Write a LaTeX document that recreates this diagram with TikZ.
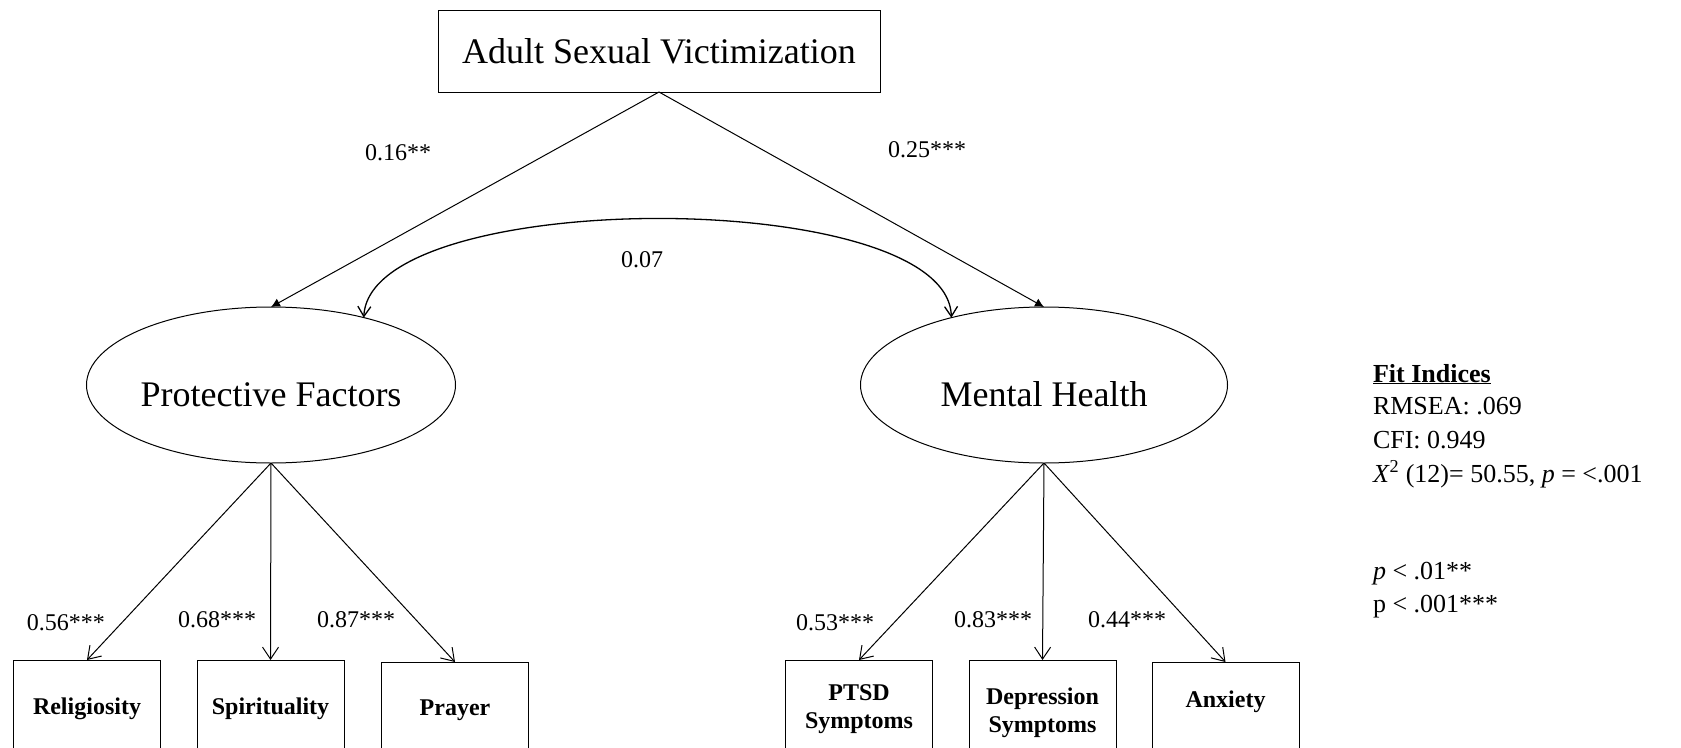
\documentclass[tikz,border=0pt]{standalone}
\usepackage{fontspec}
\setmainfont{Liberation Serif}
\usetikzlibrary{arrows.meta,shapes.geometric}

\newcommand{\sz}[2]{\fontsize{#1}{#2}\selectfont}

\begin{document}
\begin{tikzpicture}[x=1pt,y=-1pt,
  every node/.style={inner sep=0pt, outer sep=0pt},
  exo/.style={draw, line width=1pt, minimum width=442pt, minimum height=82pt, font=\sz{36}{43}},
  latent/.style={draw, ellipse, line width=1pt, minimum width=367pt, minimum height=156pt,
    font=\sz{36}{43}, text height=42pt, text depth=0pt},
  obs/.style={draw, line width=1pt, minimum width=147pt, align=center,
    font=\sz{24}{28}\bfseries, anchor=north},
  oneline/.style={text height=16pt, text depth=5pt},
  coef/.style={font=\sz{24}{29}},
  regpath/.style={line width=1pt, -{Latex[length=9pt,width=9pt]}},
  loading/.style={line width=1pt, -{Straight Barb[length=12pt,width=16pt]}},
  covpath/.style={line width=1.3pt, {Straight Barb[length=10pt,width=13pt]}-{Straight Barb[length=10pt,width=13pt]}},
  fitline/.style={anchor=base west, font=\sz{26}{31}}
]
\useasboundingbox (0,0) rectangle (1681,747);
\clip (0,0) rectangle (1681,747);

% exogenous variable
\node[exo] (asv) at (659,51) {Adult Sexual Victimization};

% latent factors
\node[latent] (pf) at (271,385) {Protective Factors};
\node[latent] (mh) at (1044,385) {Mental Health};

% indicators of protective factors
\node[obs, oneline, minimum height=98pt] (rel) at (87,660) {Religiosity};
\node[obs, oneline, minimum height=98pt] (spi) at (270.5,660) {Spirituality};
\node[obs, oneline, minimum height=95pt] (pra) at (455,662) {Prayer};

% indicators of mental health
\node[obs, minimum height=99pt] (ptsd) at (859,660) {PTSD\\Symptoms};
\node[obs, minimum height=105pt] (dep) at (1042.5,660) {Depression\\Symptoms};
\node[obs, text height=6pt, text depth=16pt, minimum height=100pt] (anx) at (1225.5,662) {Anxiety};

% structural paths
\draw[regpath] (asv.south) -- (pf.north);
\draw[regpath] (asv.south) -- (mh.north);
\draw[covpath] (pf.36) .. controls (370,186) and (948,186) .. (mh.144);

% measurement paths
\draw[loading] (pf.south) -- (rel.north);
\draw[loading] (pf.south) -- (spi.north);
\draw[loading] (pf.south) -- (pra.north);
\draw[loading] (mh.south) -- (ptsd.north);
\draw[loading] (mh.south) -- (dep.north);
\draw[loading] (mh.south) -- (anx.north);

% coefficients
\node[coef] (c1) at (398,153) {0.16**};
\node[coef] (c2) at (927,150) {0.25***};
\node[coef] (c3) at (642,260) {0.07};
\node[coef] (l1) at (66,623) {0.56***};
\node[coef] (l2) at (217,620) {0.68***};
\node[coef] (l3) at (356,620) {0.87***};
\node[coef] (l4) at (835,623) {0.53***};
\node[coef] (l5) at (993,620) {0.83***};
\node[coef] (l6) at (1127,620) {0.44***};

% fit statistics and significance key
\node[fitline] (f0) at (1373,382) {\underline{\textbf{Fit Indices}}};
\node[fitline] (f1) at (1373,414) {RMSEA: .069};
\node[fitline] (f2) at (1373,448) {CFI: 0.949};
\node[fitline] (f3) at (1373,482) {\textit{X}\textsuperscript{2} (12)= 50.55, \textit{p} = <.001};
\node[fitline] (s1) at (1373,579) {\textit{p} < .01**};
\node[fitline] (s2) at (1373,612) {p < .001***};
\end{tikzpicture}
\end{document}
